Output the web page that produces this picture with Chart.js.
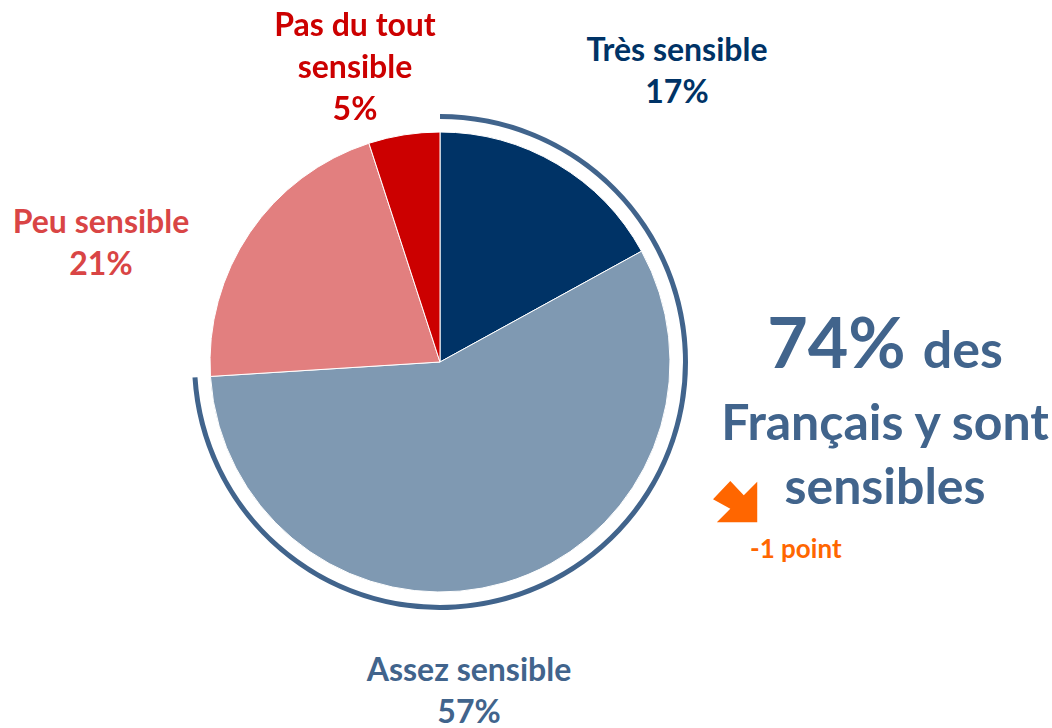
<!DOCTYPE html>
<html>
<head>
<meta charset="utf-8">
<script src="https://cdn.jsdelivr.net/npm/chart.js@4.4.1/dist/chart.umd.min.js"></script>
<style>
  body { margin: 0; background: #fff; font-family: Lato, "Open Sans", sans-serif; font-weight: 700; }
  #wrap { position: relative; width: 1052px; height: 728px; overflow: hidden; }
  #box { position: absolute; left: 192px; top: 114px; width: 496px; height: 496px; }
  .lbl { position: absolute; text-align: center; font-size: 32px; line-height: 42px; white-space: nowrap; transform: translateX(-50%); }
  #big { position: absolute; left: 885px; top: 300px; transform: translateX(-50%); text-align: center; color: #41648c; white-space: nowrap; }
</style>
</head>
<body>
<div id="wrap">
  <div id="box"><canvas id="pie"></canvas></div>
  <div id="labels"></div>
  <div id="big">
    <div style="font-size:70px;line-height:82px"><span>74%</span> <span style="font-size:52px">des</span></div>
    <div style="font-size:50px;line-height:64px">Français y sont</div>
    <div style="font-size:50px;line-height:64px">sensibles</div>
  </div>
  <svg style="position:absolute;left:713px;top:478px" width="50" height="50" viewBox="0 0 52 52">
    <polygon points="0,22 18,3 32,18 46,4 46,46 4,46 18,32" fill="#ff6600"/>
  </svg>
  <div style="position:absolute;left:750px;top:532px;color:#ff6600;font-size:26px;">-1 point</div>
</div>
<script>
const categories = ["Très sensible", "Assez sensible", "Peu sensible", "Pas du tout sensible"];
const shares = [17, 57, 21, 5];
const sliceColors = ["#003366", "#7f99b2", "#e27f7f", "#cc0000"];
const labelColors = ["#003366", "#41648c", "#d94545", "#cc0000"];
const sensibleTotal = [74, 26];

// label positions (centre x, top y) and line breaks
const labelLines = [
  ["Très sensible", "17%"],
  ["Assez sensible", "57%"],
  ["Peu sensible", "21%"],
  ["Pas du tout", "sensible", "5%"]
];
const labelPos = [[677, 28], [469, 648], [101, 200], [355, 3]];

const labels = document.getElementById("labels");
labelLines.forEach((lines, i) => {
  const d = document.createElement("div");
  d.className = "lbl";
  d.style.left = labelPos[i][0] + "px";
  d.style.top = labelPos[i][1] + "px";
  d.style.color = labelColors[i];
  d.innerHTML = lines.join("<br>");
  labels.appendChild(d);
});

new Chart(document.getElementById("pie").getContext("2d"), {
  type: "doughnut",
  data: {
    labels: categories,
    datasets: [
      {
        data: sensibleTotal,
        backgroundColor: ["#41648c", "rgba(0,0,0,0)"],
        borderWidth: 0,
        weight: 5
      },
      {
        data: [1],
        backgroundColor: ["rgba(0,0,0,0)"],
        borderWidth: 0,
        weight: 13
      },
      {
        data: shares,
        backgroundColor: sliceColors,
        borderColor: "#ffffff",
        borderWidth: 1,
        weight: 230
      }
    ]
  },
  options: {
    responsive: true,
    maintainAspectRatio: false,
    animation: false,
    cutout: 0,
    layout: { padding: 0 },
    plugins: {
      legend: { display: false },
      tooltip: { enabled: false }
    }
  }
});
</script>
</body>
</html>
